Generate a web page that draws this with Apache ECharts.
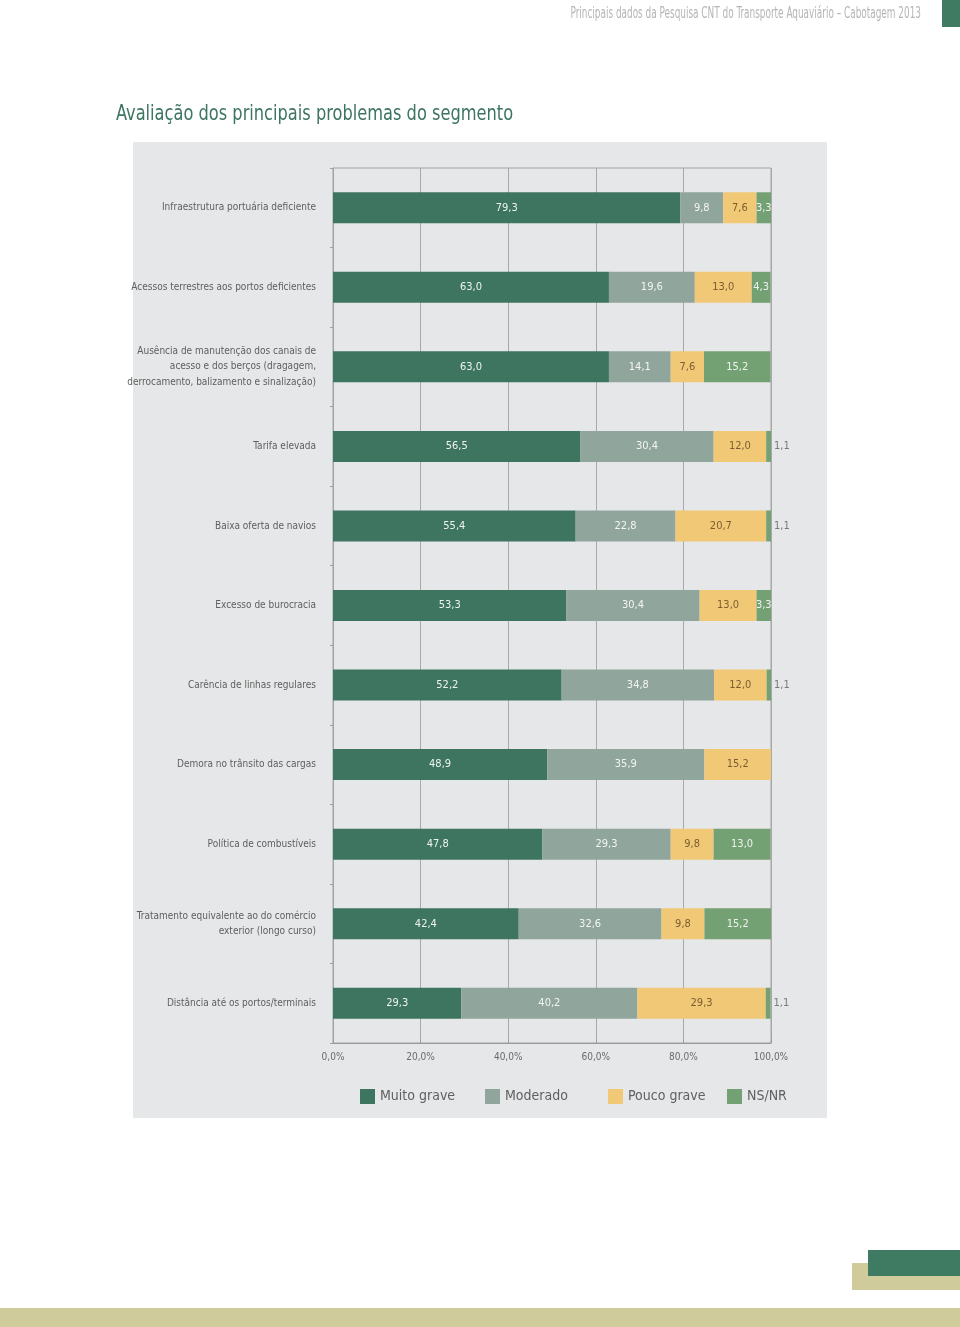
<!DOCTYPE html>
<html>
<head>
<meta charset="utf-8">
<script src="https://cdn.jsdelivr.net/npm/echarts@6/dist/echarts.min.js"></script>
<style>
html,body{margin:0;padding:0;background:#fff;}
#c{width:960px;height:1327px;}
</style>
</head>
<body>
<div id="c"></div>
<script>
const categories = [
  'Infraestrutura portuária deficiente',
  'Acessos terrestres aos portos deficientes',
  'Ausência de manutenção dos canais de\nacesso e dos berços (dragagem,\nderrocamento, balizamento e sinalização)',
  'Tarifa elevada',
  'Baixa oferta de navios',
  'Excesso de burocracia',
  'Carência de linhas regulares',
  'Demora no trânsito das cargas',
  'Política de combustíveis',
  'Tratamento equivalente ao do comércio\nexterior (longo curso)',
  'Distância até os portos/terminais'
];
const seriesNames = ['Muito grave', 'Moderado', 'Pouco grave', 'NS/NR'];
const muitoGrave = [79.3, 63.0, 63.0, 56.5, 55.4, 53.3, 52.2, 48.9, 47.8, 42.4, 29.3];
const moderado   = [9.8, 19.6, 14.1, 30.4, 22.8, 30.4, 34.8, 35.9, 29.3, 32.6, 40.2];
const poucoGrave = [7.6, 13.0, 7.6, 12.0, 20.7, 13.0, 12.0, 15.2, 9.8, 9.8, 29.3];
const nsnr       = [3.3, 4.3, 15.2, 1.1, 1.1, 3.3, 1.1, 0, 13.0, 15.2, 1.1];
const xTicks = [0, 20, 40, 60, 80, 100];

const FONT = "'Liberation Sans Narrow', 'DejaVu Sans Condensed', 'Arial Narrow', 'Roboto', sans-serif";
const colors = ['#3e7560', '#90a59c', '#f1c976', '#74a173'];
const labelColors = ['#eef3ef', '#f3f5f4', '#7b5d31', '#eef3ef'];

const fmt = v => v.toFixed(1).replace('.', ',');
const allData = [muitoGrave, moderado, poucoGrave, nsnr];

function buildSeries(idx) {
  return {
    name: seriesNames[idx],
    type: 'bar',
    stack: 'total',
    barWidth: 31,
    itemStyle: { color: colors[idx] },
    label: {
      show: true,
      position: 'inside',
      color: labelColors[idx],
      fontFamily: FONT,
      fontSize: 11,
      formatter: p => (p.value > 0 ? fmt(p.value) : '')
    },
    data: allData[idx].map(v => {
      if (idx === 3 && v > 0 && v < 2) {
        return { value: v, label: { position: 'right', distance: 3, color: '#7a7a7a' } };
      }
      return v;
    })
  };
}

const chart = echarts.init(document.getElementById('c'), null, { renderer: 'canvas' });

const legendLefts = [355, 480, 603, 722];

chart.setOption({
  backgroundColor: '#ffffff',
  animation: false,
  graphic: [
    { type: 'rect', shape: { x: 133, y: 142, width: 694, height: 976 }, style: { fill: '#e6e7e8' }, z: -10 },
    { type: 'rect', shape: { x: 942, y: 0, width: 18, height: 27 }, style: { fill: '#3f7a62' } },
    { type: 'text', x: 921, y: 14, scaleX: 0.66, style: { text: 'Principais dados da Pesquisa CNT do Transporte Aquaviário – Cabotagem 2013', fill: '#b3b6b3', font: "15px " + FONT, align: 'right', verticalAlign: 'middle' } },
    { type: 'text', x: 116, y: 114, scaleX: 0.82, style: { text: 'Avaliação dos principais problemas do segmento', fill: '#3d7560', font: "500 22px " + FONT, align: 'left', verticalAlign: 'middle' } },
    { type: 'rect', shape: { x: 852, y: 1263, width: 108, height: 27 }, style: { fill: '#cfcb9b' } },
    { type: 'rect', shape: { x: 868, y: 1250, width: 92, height: 26 }, style: { fill: '#3f7a62' } },
    { type: 'rect', shape: { x: 0, y: 1308, width: 960, height: 19 }, style: { fill: '#cfcb9b' } }
  ],
  legend: seriesNames.map((n, i) => ({
    data: [n],
    left: legendLefts[i],
    top: 1084,
    itemWidth: 15,
    itemHeight: 15,
    itemGap: 0,
    icon: 'rect',
    textStyle: { fontFamily: FONT, fontSize: 14, color: '#606060', padding: [0, 0, 0, 0] },
    selectedMode: false
  })),
  grid: { left: 333, right: 189, top: 168, bottom: 284, containLabel: false, show: true, borderColor: '#a3a3a3', borderWidth: 1, backgroundColor: 'transparent' },
  xAxis: {
    type: 'value',
    min: 0,
    max: 100,
    interval: 20,
    axisLine: { show: true, lineStyle: { color: '#9a9a9a', width: 1 } },
    axisTick: { show: true, inside: true, length: 4, lineStyle: { color: '#9a9a9a' } },
    axisLabel: {
      fontFamily: FONT, fontSize: 10, color: '#6a6a6a', margin: 9,
      formatter: v => xTicks.includes(v) ? v.toFixed(1).replace('.', ',') + '%' : ''
    },
    splitLine: { show: true, showMinLine: false, lineStyle: { color: '#a8a8a8', width: 1 } }
  },
  yAxis: {
    type: 'category',
    inverse: true,
    data: categories,
    axisLine: { show: true, lineStyle: { color: '#a3a3a3', width: 1 } },
    axisTick: { show: true, length: 3, lineStyle: { color: '#a0a0a0' } },
    axisLabel: { fontFamily: FONT, fontSize: 10, color: '#5e5e5e', margin: 17, lineHeight: 15.5, align: 'right' }
  },
  series: [0, 1, 2, 3].map(buildSeries)
});
</script>
</body>
</html>
